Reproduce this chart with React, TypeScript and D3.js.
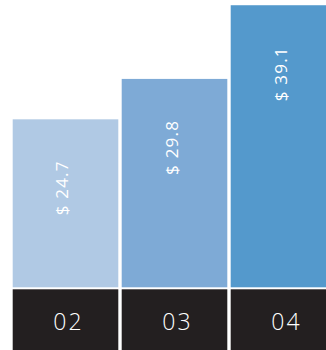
import React from "react";
import * as d3 from "d3";

const categories = ["02", "03", "04"];
const values = [24.7, 29.8, 39.1];
const valueLabels = ["$ 24.7", "$ 29.8", "$ 39.1"];
const colors = ["#b0c9e4", "#7eaad6", "#5499cc"];

const W = 326;
const H = 350;

export default function App() {
  const x = d3
    .scaleBand<string>()
    .domain(categories)
    .range([12.7, 336.3])
    .paddingInner(0.0312)
    .paddingOuter(0);
  const y = d3.scaleLinear().domain([3.5, 39.76]).range([287.3, 0]);
  const font = "'Open Sans', 'DejaVu Sans', sans-serif";

  return (
    <div style={{ position: "fixed", left: 0, top: 0, width: W, height: H, background: "#fff" }}>
      <svg width={W} height={H} style={{ display: "block" }}>
        {categories.map((c, i) => {
          const x0 = x(c)!;
          const bw = x.bandwidth();
          const top = y(values[i]);
          const cx = x0 + bw / 2;
          return (
            <g key={c}>
              <rect x={x0} y={top} width={bw} height={287.3 - top} fill={colors[i]} />
              <rect x={x0} y={289.3} width={bw} height={H - 289.3 + 5} fill="#231f20" />
              <text
                transform={`translate(${cx + 3},${top + 41}) rotate(-90)`}
                textAnchor="end"
                fill="#fff"
                fontFamily={font}
                fontSize={17}
                letterSpacing={1.2}
              >
                {valueLabels[i]}
              </text>
              <text
                x={cx + 3}
                y={330}
                textAnchor="middle"
                fill="#fff"
                fontFamily={font}
                fontSize={23}
                fontWeight={300}
                letterSpacing={2}
              >
                {c}
              </text>
            </g>
          );
        })}
      </svg>
    </div>
  );
}
